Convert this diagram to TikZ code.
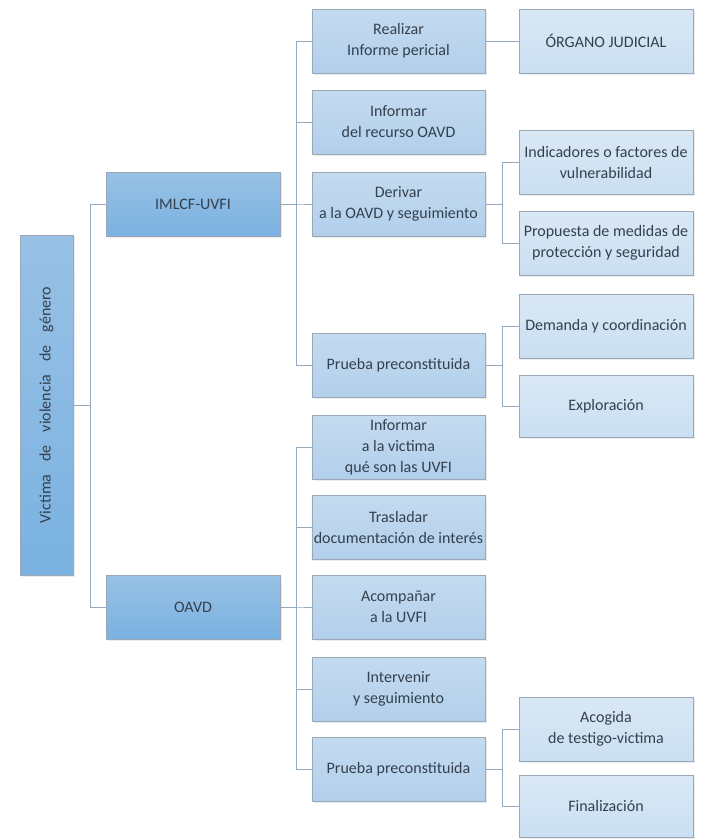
\documentclass[tikz,border=0pt]{standalone}
\usepackage{fontspec}
\setmainfont{Carlito}
\usepackage{tikz}
\usetikzlibrary{positioning,shadows}

\definecolor{txtgray}{HTML}{34404E}
\definecolor{linkblue}{HTML}{93AAC1}
\definecolor{boxedge}{HTML}{9AA7B4}
\definecolor{mainTop}{HTML}{98C1E5}
\definecolor{mainBot}{HTML}{7AB2E1}
\definecolor{subTop}{HTML}{C4DBF0}
\definecolor{subBot}{HTML}{B2CFEB}
\definecolor{leafTop}{HTML}{DAE8F5}
\definecolor{leafBot}{HTML}{CADFF2}

\begin{document}
\begin{tikzpicture}[x=1pt, y=-1pt,
  box/.style={draw=boxedge, line width=0.4pt, minimum height=64pt, align=center, inner sep=2pt, text=txtgray, font=\fontsize{16}{21}\selectfont, drop shadow={opacity=0.15, shadow xshift=1.5pt, shadow yshift=-1.5pt}},
  main/.style={box, minimum width=174pt, top color=mainTop, bottom color=mainBot},
  sub/.style={box, minimum width=173pt, top color=subTop, bottom color=subBot},
  leaf/.style={box, minimum width=174pt, top color=leafTop, bottom color=leafBot},
  link/.style={draw=linkblue, line width=1pt}]
\useasboundingbox (0,0) rectangle (702,839);
\node[main, minimum width=53pt, minimum height=340pt] (victima) at (46.5,405) {\rotatebox{90}{Victima\hspace{13pt}de\hspace{13pt}violencia\hspace{13pt}de\hspace{13pt}género}};
\node[main] (imlcf) at (193,204) {IMLCF-UVFI};
\node[main] (oavd) at (193,607) {OAVD};
\node[sub] (realizar) at (398.5,41) {Realizar\\Informe pericial};
\node[sub] (informar) at (398.5,122) {Informar\\del recurso OAVD};
\node[sub] (derivar) at (398.5,204) {Derivar\\a la OAVD y seguimiento};
\node[sub] (pruebaA) at (398.5,365) {Prueba preconstituida};
\node[sub] (infvictima) at (398.5,447) {Informar\\a la victima\\qué son las UVFI};
\node[sub] (trasladar) at (398.5,527) {Trasladar\\documentación de interés};
\node[sub] (acompanar) at (398.5,607) {Acompañar\\a la UVFI};
\node[sub] (intervenir) at (398.5,689) {Intervenir\\y seguimiento};
\node[sub] (pruebaB) at (398.5,769) {Prueba preconstituida};
\node[leaf] (organo) at (606,41) {ÓRGANO JUDICIAL};
\node[leaf] (indicadores) at (606,162) {Indicadores o factores de\\vulnerabilidad};
\node[leaf] (propuesta) at (606,243) {Propuesta de medidas de\\protección y seguridad};
\node[leaf] (demanda) at (606,326) {Demanda y coordinación};
\node[leaf, minimum height=62pt] (exploracion) at (606,406) {Exploración};
\node[leaf] (acogida) at (606,729) {Acogida\\de testigo-victima};
\node[leaf, minimum height=62pt] (finalizacion) at (606,806) {Finalización};
\draw[link] (victima.east) -- ++(17,0) |- (imlcf.west); \draw[link] (victima.east) -- ++(17,0) |- (oavd.west);
\draw[link] (imlcf.east) -- ++(16,0) |- (realizar.west); \draw[link] (imlcf.east) -- ++(16,0) |- (informar.west);
\draw[link] (imlcf.east) -- ++(16,0) |- (derivar.west); \draw[link] (imlcf.east) -- ++(16,0) |- (pruebaA.west);
\draw[link] (oavd.east) -- ++(16,0) |- (infvictima.west); \draw[link] (oavd.east) -- ++(16,0) |- (trasladar.west);
\draw[link] (oavd.east) -- ++(16,0) |- (acompanar.west); \draw[link] (oavd.east) -- ++(16,0) |- (intervenir.west);
\draw[link] (oavd.east) -- ++(16,0) |- (pruebaB.west);
\draw[link] (realizar) -- (organo);
\draw[link] (derivar.east) -- ++(17,0) |- (indicadores.west); \draw[link] (derivar.east) -- ++(17,0) |- (propuesta.west);
\draw[link] (pruebaA.east) -- ++(17,0) |- (demanda.west); \draw[link] (pruebaA.east) -- ++(17,0) |- (exploracion.west);
\draw[link] (pruebaB.east) -- ++(17,0) |- (acogida.west); \draw[link] (pruebaB.east) -- ++(17,0) |- (finalizacion.west);
\end{tikzpicture}
\end{document}
